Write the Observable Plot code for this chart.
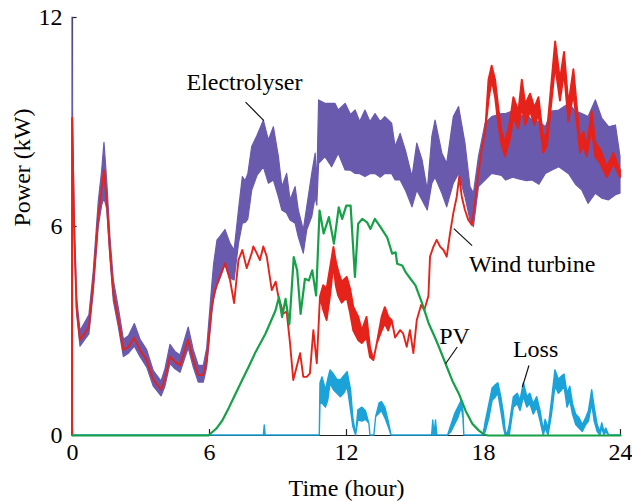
<!DOCTYPE html>
<html>
<head>
<meta charset="utf-8">
<script src="https://cdn.jsdelivr.net/npm/d3@7"></script>
<script src="https://cdn.jsdelivr.net/npm/@observablehq/plot@0.6"></script>
<style>
  html, body { margin: 0; padding: 0; background: #fff; }
</style>
</head>
<body>
<div id="chart"></div>
<script>
// Daily power profile of a hybrid wind / PV electrolyser system (kW vs hour)

const xTicks = [0, 6, 12, 18, 24];
const yTicks = [0, 6, 12];

// Electrolyser power: lower / upper envelope of the fast-switching band
const elecTime = [0, 0.02, 0.1, 0.2, 0.35, 0.57, 0.74, 0.93, 1.15, 1.3, 1.4, 1.52, 1.66, 1.81, 2.03, 2.25, 2.47, 2.73, 2.98, 3.27, 3.56, 3.9, 4.07, 4.29, 4.51, 4.73, 5.09, 5.31, 5.53, 5.75, 5.9, 6.12, 6.2, 6.35, 6.48, 6.7, 6.92, 7.1, 7.29, 7.46, 7.58, 7.7, 7.87, 8.1, 8.38, 8.6, 8.82, 9.04, 9.19, 9.4, 9.55, 9.77, 9.91, 10.13, 10.28, 10.5, 10.65, 10.72, 10.8, 11.08, 11.37, 11.52, 11.66, 11.96, 12.2, 12.4, 12.6, 12.83, 13.05, 13.27, 13.5, 13.7, 14.0, 14.15, 14.37, 14.6, 14.89, 15.1, 15.33, 15.56, 15.76, 15.9, 16.2, 16.41, 16.7, 16.93, 17.21, 17.43, 17.58, 17.8, 18.09, 18.38, 18.82, 18.99, 19.3, 19.57, 19.9, 20.15, 20.45, 20.73, 21.0, 21.32, 21.75, 22.05, 22.33, 22.6, 22.92, 23.2, 23.5, 23.8, 24.0];
const elecLow  = [0, 8.3, 5.6, 3.5, 2.55, 2.75, 2.9, 4.1, 6.0, 6.6, 6.8, 6.5, 5.1, 3.85, 3.1, 2.25, 2.35, 2.55, 2.25, 1.95, 1.4, 1.12, 1.4, 2.05, 1.9, 1.8, 2.5, 1.95, 1.52, 1.52, 1.95, 3.5, 3.9, 4.3, 4.5, 4.9, 4.5, 4.45, 5.5, 6.08, 6.1, 6.2, 7.03, 7.45, 7.7, 7.23, 7.32, 6.84, 6.46, 6.37, 6.17, 6.08, 5.69, 5.22, 5.89, 6.27, 6.84, 6.6, 7.8, 7.99, 7.7, 7.9, 8.09, 7.61, 7.6, 7.51, 7.5, 7.42, 7.5, 7.51, 7.4, 7.51, 7.5, 7.32, 7.32, 7.03, 6.55, 7.03, 6.75, 6.46, 7.23, 7.4, 6.94, 6.55, 7.23, 7.51, 6.84, 6.17, 5.98, 7.13, 7.32, 7.51, 7.45, 7.32, 7.4, 7.35, 7.3, 7.32, 7.2, 7.51, 7.6, 7.7, 7.5, 7.2, 7.03, 6.65, 6.94, 6.8, 6.75, 6.9, 6.94];
const elecHigh = [12, 9.2, 6.1, 3.95, 3.0, 3.25, 3.45, 4.7, 6.7, 7.6, 8.4, 7.3, 5.7, 4.45, 3.65, 2.75, 2.85, 3.2, 2.75, 2.45, 1.85, 1.55, 1.9, 2.6, 2.4, 2.3, 3.1, 2.45, 2.0, 2.0, 2.5, 4.3, 4.9, 5.6, 5.7, 5.9, 5.5, 5.31, 6.46, 7.42, 7.3, 7.5, 8.28, 8.6, 9.04, 8.47, 8.85, 7.99, 7.13, 7.51, 6.75, 7.13, 6.46, 5.89, 6.55, 7.51, 8.09, 7.2, 9.62, 9.52, 9.52, 9.52, 9.33, 9.52, 9.2, 9.33, 9.0, 9.33, 9.0, 9.23, 9.0, 9.14, 8.95, 8.28, 8.66, 8.18, 7.42, 8.38, 7.9, 7.03, 8.57, 9.04, 8.09, 7.8, 9.14, 9.43, 8.38, 7.13, 6.94, 7.99, 8.95, 9.14, 9.23, 9.23, 9.3, 9.14, 9.2, 9.04, 9.0, 8.85, 9.3, 9.33, 9.52, 9.3, 9.23, 9.14, 9.62, 9.1, 8.85, 8.9, 8.0];

// Wind turbine power: lower / upper trace (equal where the trace is smooth)
const windTime = [0, 0.005, 0.1, 0.2, 0.35, 0.57, 0.74, 0.93, 1.15, 1.4, 1.52, 1.66, 1.81, 2.03, 2.25, 2.47, 2.73, 2.98, 3.27, 3.56, 3.9, 4.07, 4.29, 4.51, 4.73, 5.09, 5.31, 5.53, 5.75, 5.9, 6.12, 6.26, 6.48, 6.7, 6.92, 7.1, 7.29, 7.46, 7.65, 7.87, 7.94, 8.09, 8.23, 8.38, 8.53, 8.75, 8.92, 9.04, 9.26, 9.4, 9.55, 9.69, 9.84, 9.99, 10.13, 10.28, 10.42, 10.57, 10.72, 10.86, 11.0, 11.15, 11.3, 11.45, 11.55, 11.66, 11.81, 12.03, 12.18, 12.32, 12.54, 12.69, 12.9, 13.05, 13.2, 13.35, 13.56, 13.7, 13.85, 14.0, 14.15, 14.37, 14.5, 14.66, 14.8, 14.95, 15.1, 15.29, 15.43, 15.61, 15.68, 15.83, 15.97, 16.12, 16.27, 16.41, 16.56, 16.7, 16.85, 16.96, 17.07, 17.21, 17.36, 17.51, 17.65, 17.8, 17.94, 18.09, 18.24, 18.38, 18.53, 18.67, 18.82, 18.97, 19.18, 19.33, 19.55, 19.7, 19.85, 20.06, 20.25, 20.43, 20.64, 20.8, 20.94, 21.16, 21.37, 21.55, 21.74, 21.96, 22.1, 22.25, 22.4, 22.54, 22.76, 22.91, 23.13, 23.42, 23.71, 24.0];
const windLow  = [0, 9.1, 5.8, 3.67, 2.73, 2.93, 3.1, 4.36, 6.26, 7.6, 6.75, 5.3, 4.07, 3.3, 2.44, 2.53, 2.79, 2.44, 2.15, 1.58, 1.3, 1.6, 2.25, 2.1, 2.0, 2.73, 2.15, 1.72, 1.72, 2.15, 3.68, 4.16, 4.55, 4.93, 4.45, 3.79, 5.02, 5.31, 4.79, 5.22, 5.41, 5.22, 5.02, 5.41, 5.12, 4.16, 4.4, 3.97, 3.49, 3.54, 2.63, 1.58, 1.96, 2.35, 1.67, 1.67, 1.77, 3.01, 2.06, 3.97, 3.6, 3.3, 4.0, 4.9, 4.3, 4.0, 3.8, 3.96, 3.5, 3.0, 2.72, 2.64, 2.8, 2.24, 2.15, 2.64, 3.0, 3.2, 3.0, 3.3, 2.8, 3.01, 2.92, 2.53, 3.01, 2.35, 3.3, 3.73, 3.59, 4.0, 5.12, 5.41, 5.6, 5.41, 5.31, 5.12, 5.8, 6.37, 6.84, 7.42, 6.84, 6.46, 6.17, 6.03, 6.66, 7.52, 8.18, 8.67, 9.6, 10.2, 9.7, 8.9, 8.3, 8.0, 8.5, 9.1, 8.8, 9.4, 8.9, 9.3, 8.9, 9.2, 8.1, 8.3, 9.2, 10.6, 9.6, 10.4, 9.0, 9.8, 9.0, 8.1, 8.3, 8.0, 8.8, 8.0, 7.8, 7.4, 7.8, 7.4];
const windHigh = [0, 9.1, 5.8, 3.67, 2.73, 2.93, 3.1, 4.36, 6.26, 7.6, 6.75, 5.3, 4.07, 3.3, 2.44, 2.53, 2.79, 2.44, 2.15, 1.58, 1.3, 1.6, 2.25, 2.1, 2.0, 2.73, 2.15, 1.72, 1.72, 2.15, 3.68, 4.16, 4.55, 4.93, 4.45, 3.79, 5.02, 5.31, 4.79, 5.22, 5.41, 5.22, 5.02, 5.41, 5.12, 4.16, 4.4, 3.97, 3.49, 3.54, 2.63, 1.58, 1.96, 2.35, 1.67, 1.67, 1.77, 3.01, 2.06, 3.97, 4.3, 4.2, 4.8, 5.4, 5.0, 4.7, 4.4, 4.54, 4.2, 3.68, 3.39, 3.0, 3.39, 2.53, 2.15, 2.64, 3.39, 3.67, 3.4, 3.3, 2.8, 3.01, 2.92, 2.53, 3.01, 2.35, 3.3, 3.73, 3.59, 4.0, 5.12, 5.41, 5.6, 5.41, 5.31, 5.12, 5.8, 6.37, 6.84, 7.42, 6.84, 6.46, 6.17, 6.03, 6.66, 7.52, 8.18, 8.67, 10.2, 10.6, 10.2, 9.4, 8.7, 8.4, 9.0, 9.7, 9.3, 10.2, 9.5, 9.8, 9.4, 9.7, 8.5, 8.7, 9.7, 11.3, 10.2, 11.0, 9.5, 10.5, 9.5, 8.5, 8.7, 8.3, 9.3, 8.4, 8.2, 7.7, 8.1, 7.6];

// PV power
const pvTime  = [0, 5.95, 6.04, 6.3, 6.56, 6.85, 7.14, 7.4, 7.7, 8.02, 8.45, 8.89, 9.04, 9.18, 9.33, 9.5, 9.69, 9.84, 9.99, 10.18, 10.35, 10.5, 10.67, 10.82, 11.0, 11.23, 11.45, 11.66, 11.81, 11.99, 12.18, 12.37, 12.51, 12.69, 12.9, 13.05, 13.24, 13.49, 13.78, 14.0, 14.15, 14.22, 14.44, 14.59, 14.8, 15.02, 15.32, 15.61, 15.87, 16.05, 16.34, 16.63, 16.92, 17.21, 17.51, 17.8, 18.02, 18.2, 24];
const pvPower = [0, 0, 0.05, 0.2, 0.43, 0.8, 1.2, 1.55, 1.95, 2.4, 2.92, 3.59, 3.97, 3.4, 3.92, 3.2, 5.12, 4.74, 3.49, 4.5, 4.45, 4.74, 4.02, 6.46, 5.8, 6.27, 5.51, 6.55, 6.22, 6.6, 6.6, 4.55, 6.08, 6.22, 6.12, 5.93, 6.22, 5.98, 5.69, 5.22, 5.26, 4.93, 4.88, 4.69, 4.5, 4.31, 3.78, 3.2, 2.82, 2.54, 2.06, 1.58, 1.2, 0.72, 0.34, 0.14, 0.03, 0, 0];

// Loss: lower / upper trace
const lossTime = [0, 0.02, 8.38, 8.42, 8.46, 10.83, 10.86, 10.95, 11.1, 11.2, 11.3, 11.45, 11.6, 11.75, 11.9, 12.05, 12.2, 12.3, 12.42, 12.52, 12.7, 12.85, 13.0, 13.05, 13.22, 13.3, 13.45, 13.55, 13.7, 13.85, 13.97, 15.75, 15.8, 15.85, 15.92, 15.98, 16.45, 16.6, 16.75, 16.9, 17.05, 17.12, 17.16, 18.0, 18.1, 18.26, 18.4, 18.55, 18.65, 18.78, 18.9, 18.97, 19.05, 19.15, 19.33, 19.5, 19.62, 19.77, 19.92, 20.05, 20.2, 20.35, 20.5, 20.64, 20.72, 20.85, 21.0, 21.15, 21.3, 21.45, 21.55, 21.68, 21.8, 21.92, 22.06, 22.2, 22.35, 22.5, 22.62, 22.76, 22.87, 23.0, 23.12, 23.2, 23.3, 23.38, 23.5, 24];
const lossLow  = [0, 0, 0, 0, 0, 0, 0.9, 0.92, 0.8, 1.0, 1.49, 1.3, 1.2, 1.1, 1.2, 1.39, 0.72, 0.24, 0, 0.43, 0.4, 0.45, 0.34, 0, 0, 0.53, 0.63, 0.7, 0.5, 0.24, 0, 0, 0, 0, 0, 0, 0, 0.1, 0.3, 0.5, 0.8, 0.5, 0, 0, 0.1, 0.5, 1.0, 1.1, 1.2, 0.7, 0.2, 0, 0, 0, 0.8, 0.9, 0.7, 1.1, 0.8, 0.9, 0.6, 0.8, 0.4, 0, 0.2, 0, 0.6, 1.4, 1.2, 1.3, 1.4, 0.8, 1.0, 0.6, 0.3, 0.2, 0.1, 0.3, 0.4, 0.9, 0.4, 0.1, 0, 0.2, 0, 0.1, 0, 0];
const lossHigh = [1.2, 0, 0, 0.29, 0, 0, 1.5, 1.67, 1.3, 1.6, 1.87, 1.75, 1.6, 1.58, 1.7, 1.82, 1.3, 0.5, 0, 0.72, 0.8, 0.7, 0.34, 0, 0, 0.53, 0.92, 0.96, 0.8, 0.4, 0, 0, 0.43, 0, 0.43, 0, 0, 0.3, 0.6, 0.8, 1.0, 0.7, 0, 0, 0.4, 0.9, 1.35, 1.45, 1.5, 1.1, 0.6, 0.14, 0, 0.3, 1.1, 1.2, 1.0, 1.5, 1.1, 1.2, 0.9, 1.1, 0.7, 0.14, 0.45, 0.2, 1.0, 1.87, 1.6, 1.7, 1.75, 1.2, 1.4, 0.9, 0.6, 0.5, 0.3, 0.5, 0.7, 1.3, 0.8, 0.3, 0.1, 0.35, 0.1, 0.2, 0, 0];

// Curve labels with their leader lines (hours, kW)
const labelText = ["Electrolyser", "Wind turbine", "PV", "Loss"];
const labelX = [7.53, 20.13, 16.73, 20.28];
const labelY = [10.13, 4.91, 2.84, 2.47];
const leaderX1 = [7.58, 16.7, 16.85, 19.99];
const leaderY1 = [9.57, 5.94, 2.54, 2.01];
const leaderX2 = [8.38, 17.5, 16.34, 19.7];
const leaderY2 = [9.04, 5.45, 2.06, 1.39];

const colors = {elec: "#6a5aad", wind: "#e5231b", pv: "#16a048", loss: "#1ba3d9"};

const band = (time, lo, hi) => time.map((t, i) => ({t, lo: lo[i], hi: hi[i]}));
const elecData = band(elecTime, elecLow, elecHigh);
const windData = band(windTime, windLow, windHigh);
const lossData = band(lossTime, lossLow, lossHigh);
const pvData = pvTime.map((t, i) => ({t, p: pvPower[i]}));
const labels = labelText.map((text, i) => ({
  text, x: labelX[i], y: labelY[i],
  x1: leaderX1[i], y1: leaderY1[i], x2: leaderX2[i], y2: leaderY2[i]
}));

const chart = Plot.plot({
  width: 632,
  height: 501,
  marginLeft: 72,
  marginRight: 12,
  marginTop: 17,
  marginBottom: 66,
  x: {domain: [0, 24], axis: null},
  y: {domain: [0, 12], axis: null},
  style: {fontFamily: "'Liberation Serif', 'Times New Roman', serif", fontSize: "24px", background: "#fff", color: "#000"},
  marks: [
    // axis lines
    Plot.ruleY([0], {x1: 0, x2: 24, stroke: "#222", strokeWidth: 1.2}),
    Plot.ruleX([0], {y1: 0, y2: 12, stroke: "#222", strokeWidth: 1.2}),
    // inward tick marks
    Plot.ruleX(xTicks, {y1: 0, y2: 0.17, stroke: "#222", strokeWidth: 1.2}),
    Plot.ruleY(yTicks, {x1: 0, x2: 0.2, stroke: "#222", strokeWidth: 1.2}),
    // tick labels
    Plot.axisX({ticks: xTicks, tickSize: 0, tickPadding: 7, fontSize: 24, label: null}),
    Plot.axisY({ticks: yTicks, tickSize: 0, tickPadding: 10, fontSize: 24, label: null}),
    // axis titles
    Plot.text(["Time (hour)"], {frameAnchor: "bottom", dy: 43, lineAnchor: "top", fontSize: 24}),
    Plot.text(["Power (kW)"], {frameAnchor: "left", dx: -50, rotate: -90, fontSize: 24}),
    // series
    Plot.areaY(elecData, {x: "t", y1: "lo", y2: "hi", fill: colors.elec, stroke: colors.elec, strokeWidth: 1.2, curve: "linear"}),
    Plot.areaY(lossData, {x: "t", y1: "lo", y2: "hi", fill: colors.loss, stroke: colors.loss, strokeWidth: 1.4, curve: "linear"}),
    Plot.areaY(windData, {x: "t", y1: "lo", y2: "hi", fill: colors.wind, stroke: colors.wind, strokeWidth: 1.9, curve: "linear"}),
    Plot.line(pvData, {x: "t", y: "p", stroke: colors.pv, strokeWidth: 2.2, curve: "linear"}),
    // curve labels
    Plot.link(labels, {x1: "x1", y1: "y1", x2: "x2", y2: "y2", stroke: "#111", strokeWidth: 1.2}),
    Plot.text(labels, {x: "x", y: "y", text: "text", fontSize: 24, fill: "#000"})
  ]
});

document.getElementById("chart").append(chart);
</script>
</body>
</html>
